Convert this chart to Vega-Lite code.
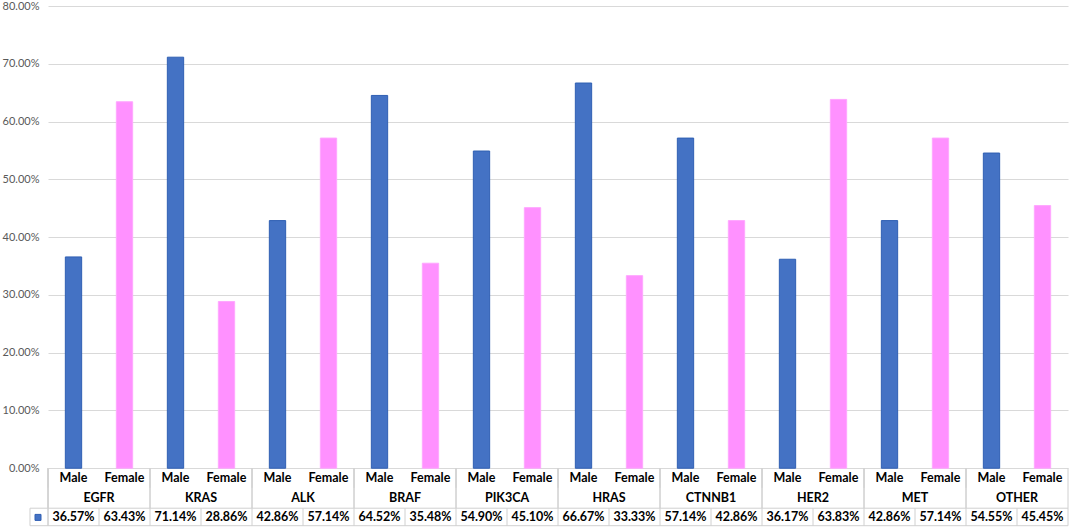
{
  "$schema": "https://vega.github.io/schema/vega-lite/v6.json",
  "width": 1020,
  "height": 520,
  "autosize": {"type": "none"},
  "padding": {"left": 48, "top": 6, "right": 6, "bottom": 6},
  "background": "white",
  "config": {"view": {"stroke": null}, "font": "Lato"},
  "data": {
    "values": [
      {"key": "EGFR Male", "gene": "EGFR", "sex": "Male", "share": 0.3657},
      {"key": "EGFR Female", "gene": "EGFR", "sex": "Female", "share": 0.6343},
      {"key": "KRAS Male", "gene": "KRAS", "sex": "Male", "share": 0.7114},
      {"key": "KRAS Female", "gene": "KRAS", "sex": "Female", "share": 0.2886},
      {"key": "ALK Male", "gene": "ALK", "sex": "Male", "share": 0.4286},
      {"key": "ALK Female", "gene": "ALK", "sex": "Female", "share": 0.5714},
      {"key": "BRAF Male", "gene": "BRAF", "sex": "Male", "share": 0.6452},
      {"key": "BRAF Female", "gene": "BRAF", "sex": "Female", "share": 0.3548},
      {"key": "PIK3CA Male", "gene": "PIK3CA", "sex": "Male", "share": 0.549},
      {"key": "PIK3CA Female", "gene": "PIK3CA", "sex": "Female", "share": 0.451},
      {"key": "HRAS Male", "gene": "HRAS", "sex": "Male", "share": 0.6667},
      {"key": "HRAS Female", "gene": "HRAS", "sex": "Female", "share": 0.3333},
      {"key": "CTNNB1 Male", "gene": "CTNNB1", "sex": "Male", "share": 0.5714},
      {"key": "CTNNB1 Female", "gene": "CTNNB1", "sex": "Female", "share": 0.4286},
      {"key": "HER2 Male", "gene": "HER2", "sex": "Male", "share": 0.3617},
      {"key": "HER2 Female", "gene": "HER2", "sex": "Female", "share": 0.6383},
      {"key": "MET Male", "gene": "MET", "sex": "Male", "share": 0.4286},
      {"key": "MET Female", "gene": "MET", "sex": "Female", "share": 0.5714},
      {"key": "OTHER Male", "gene": "OTHER", "sex": "Male", "share": 0.5455},
      {"key": "OTHER Female", "gene": "OTHER", "sex": "Female", "share": 0.4545}
    ]
  },
  "layer": [
    {
      "mark": {"type": "bar", "width": {"band": 0.32}, "strokeWidth": 1},
      "encoding": {
        "x": {
          "field": "key", "type": "nominal", "sort": null, "axis": null,
          "scale": {"type": "band", "paddingInner": 0, "paddingOuter": 0}
        },
        "y": {
          "field": "share", "type": "quantitative",
          "scale": {"domain": [-0.1, 0.8], "nice": false, "zero": false},
          "axis": {
            "title": null, "values": [0, 0.1, 0.2, 0.3, 0.4, 0.5, 0.6, 0.7, 0.8],
            "format": ".2%", "domain": false, "ticks": false, "labelPadding": 9,
            "labelFontSize": 11, "labelColor": "#595959", "labelFont": "Lato",
            "gridColor": "#D9D9D9", "gridWidth": 1
          }
        },
        "color": {
          "field": "sex", "type": "nominal", "legend": null,
          "scale": {"domain": ["Male", "Female"], "range": ["#4472C4", "#FF91FF"]}
        },
        "stroke": {
          "field": "sex", "type": "nominal", "legend": null,
          "scale": {"domain": ["Male", "Female"], "range": ["#2F5FB3", "#FFA6FF"]}
        }
      }
    },
    {
      "mark": {"type": "text", "fontWeight": "bold", "fontSize": 12.5, "color": "#000000", "baseline": "middle"},
      "encoding": {
        "x": {
          "field": "key", "type": "nominal", "sort": null, "axis": null, "bandPosition": 0.5,
          "scale": {"type": "band", "paddingInner": 0, "paddingOuter": 0}
        },
        "y": {"datum": -0.0168, "type": "quantitative"},
        "text": {"field": "sex"}
      }
    },
    {
      "transform": [{"filter": "datum.sex === 'Male'"}],
      "mark": {"type": "text", "fontWeight": "bold", "fontSize": 12.5, "color": "#000000", "baseline": "middle"},
      "encoding": {
        "x": {
          "field": "gene", "type": "nominal", "sort": null, "axis": null, "bandPosition": 0.5,
          "scale": {"type": "band", "paddingInner": 0, "paddingOuter": 0}
        },
        "y": {"datum": -0.0514, "type": "quantitative"},
        "text": {"field": "gene"}
      }
    },
    {
      "mark": {"type": "text", "fontWeight": "bold", "fontSize": 12.5, "color": "#000000", "baseline": "middle"},
      "encoding": {
        "x": {
          "field": "key", "type": "nominal", "sort": null, "axis": null, "bandPosition": 0.5,
          "scale": {"type": "band", "paddingInner": 0, "paddingOuter": 0}
        },
        "y": {"datum": -0.0851, "type": "quantitative"},
        "text": {"field": "share", "format": ".2%"}
      }
    },
    {
      "mark": {"type": "rule", "color": "#D0D0D0", "strokeWidth": 1},
      "encoding": {
        "x": {
          "field": "key", "type": "nominal", "sort": null, "axis": null, "bandPosition": 0,
          "scale": {"type": "band", "paddingInner": 0, "paddingOuter": 0}
        },
        "y": {"datum": -0.0692, "type": "quantitative"},
        "y2": {"datum": -0.1}
      }
    },
    {
      "transform": [{"filter": "datum.sex === 'Female'"}],
      "mark": {"type": "rule", "color": "#D0D0D0", "strokeWidth": 1},
      "encoding": {
        "x": {
          "field": "key", "type": "nominal", "sort": null, "axis": null, "bandPosition": 0,
          "scale": {"type": "band", "paddingInner": 0, "paddingOuter": 0}
        },
        "y": {"datum": 0, "type": "quantitative"},
        "y2": {"datum": -0.034}
      }
    },
    {
      "mark": {"type": "rule", "color": "#D0D0D0", "strokeWidth": 1},
      "encoding": {
        "x": {
          "field": "gene", "type": "nominal", "sort": null, "axis": null, "bandPosition": 0,
          "scale": {"type": "band", "paddingInner": 0, "paddingOuter": 0}
        },
        "y": {"datum": 0, "type": "quantitative"},
        "y2": {"datum": -0.0692}
      }
    },
    {
      "data": {"values": [{}]},
      "layer": [
        {
          "mark": {"type": "rule", "color": "#D0D0D0", "strokeWidth": 1},
          "encoding": {
            "x": {"datum": -0.353, "type": "quantitative", "axis": null, "scale": {"domain": [0, 20], "nice": false, "zero": false}},
            "x2": {"datum": 20},
            "y": {"datum": -0.0692, "type": "quantitative"}
          }
        },
        {
          "mark": {"type": "rule", "color": "#D0D0D0", "strokeWidth": 1},
          "encoding": {
            "x": {"datum": -0.353, "type": "quantitative", "axis": null, "scale": {"domain": [0, 20], "nice": false, "zero": false}},
            "x2": {"datum": 20},
            "y": {"datum": -0.0995, "type": "quantitative"}
          }
        },
        {
          "mark": {"type": "rule", "color": "#D0D0D0", "strokeWidth": 1},
          "encoding": {
            "x": {"datum": -0.353, "type": "quantitative", "axis": null, "scale": {"domain": [0, 20], "nice": false, "zero": false}},
            "y": {"datum": -0.0692, "type": "quantitative"},
            "y2": {"datum": -0.0995}
          }
        },
        {
          "mark": {"type": "rule", "color": "#D0D0D0", "strokeWidth": 1},
          "encoding": {
            "x": {"datum": 0, "type": "quantitative", "axis": null, "scale": {"domain": [0, 20], "nice": false, "zero": false}},
            "y": {"datum": 0, "type": "quantitative"},
            "y2": {"datum": -0.0995}
          }
        },
        {
          "mark": {"type": "rule", "color": "#D0D0D0", "strokeWidth": 1},
          "encoding": {
            "x": {"datum": 20, "type": "quantitative", "axis": null, "scale": {"domain": [0, 20], "nice": false, "zero": false}},
            "y": {"datum": 0, "type": "quantitative"},
            "y2": {"datum": -0.0995}
          }
        },
        {
          "mark": {"type": "square", "filled": true, "size": 36, "color": "#4472C4", "stroke": "#2F5FB3", "strokeWidth": 1, "opacity": 1},
          "encoding": {
            "x": {"datum": -0.196, "type": "quantitative", "axis": null, "scale": {"domain": [0, 20], "nice": false, "zero": false}},
            "y": {"datum": -0.0851, "type": "quantitative"}
          }
        }
      ]
    }
  ],
  "resolve": {"scale": {"x": "independent"}}
}
